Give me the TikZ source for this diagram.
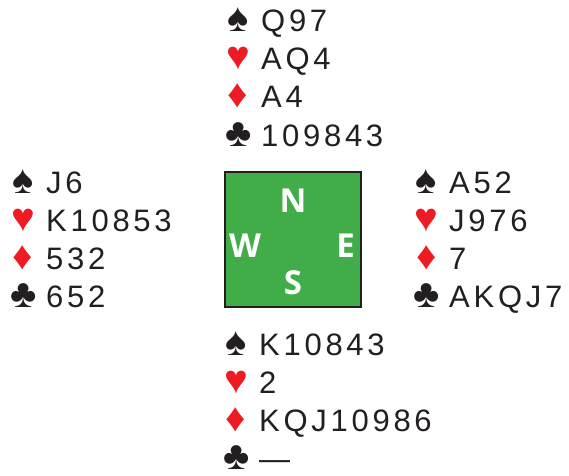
\documentclass[tikz,border=0pt]{standalone}
\usepackage{fontspec}
\usepackage{xcolor}
\setmainfont{Liberation Sans}[LetterSpace=12]
\newfontfamily\suitfont{Liberation Sans}
\newfontfamily\dirfont{Open Sans}
\definecolor{suitred}{RGB}{237,28,36}
\definecolor{inkblack}{RGB}{35,31,32}
\definecolor{tablegreen}{RGB}{65,173,73}

% suit symbols
\newcommand{\suitbox}[1]{\makebox[24pt][c]{\suitfont\fontsize{40}{38}\selectfont#1}}
\newcommand{\spd}{\suitbox{\symbol{"2660}}}
\newcommand{\hrt}{\suitbox{\color{suitred}\symbol{"2665}}}
\newcommand{\dmd}{\suitbox{\color{suitred}\symbol{"2666}}}
\newcommand{\clb}{\suitbox{\symbol{"2663}}}
% one hand: spades, hearts, diamonds, clubs
\newcommand{\deal}[4]{%
  \begin{tabular}[t]{@{}l@{\hspace{11pt}}l@{}}
    \spd & #1\\
    \hrt & #2\\
    \dmd & #3\\
    \clb & #4
  \end{tabular}}

\begin{document}
\begin{tikzpicture}[x=1pt,y=-1pt,
    hand/.style={anchor=base west, inner sep=0pt, text=inkblack,
      font=\fontsize{31}{38.2}\selectfont},
    board/.style={draw=inkblack, line width=2.5pt, fill=tablegreen,
      minimum width=136pt, minimum height=135pt, inner sep=0pt},
    seat/.style={anchor=base, inner sep=0pt, text=white,
      font=\dirfont\bfseries\fontsize{33}{33}\selectfont}]
    \useasboundingbox (0,0) rectangle (569,475);

    % the table
    \node[board] (board) at (293,239.5) {};
    \node[seat] (seatN) at (293,212.5) {N};
    \node[seat] (seatW) at (245,257.5) {W};
    \node[seat] (seatE) at (345.5,257.5) {E};
    \node[seat] (seatS) at (293,294.5) {S};

    % the four hands
    \node[hand] (north) at (226,31.5) {\deal{Q97}{AQ4}{A4}{109843}};
    \node[hand] (west) at (11,193) {\deal{J6}{K10853}{532}{652}};
    \node[hand] (east) at (414,193) {\deal{A52}{J976}{7}{AKQJ7}};
    \node[hand] (south) at (224,355) {\deal{K10843}{2}{KQJ10986}{---}};
\end{tikzpicture}
\end{document}
